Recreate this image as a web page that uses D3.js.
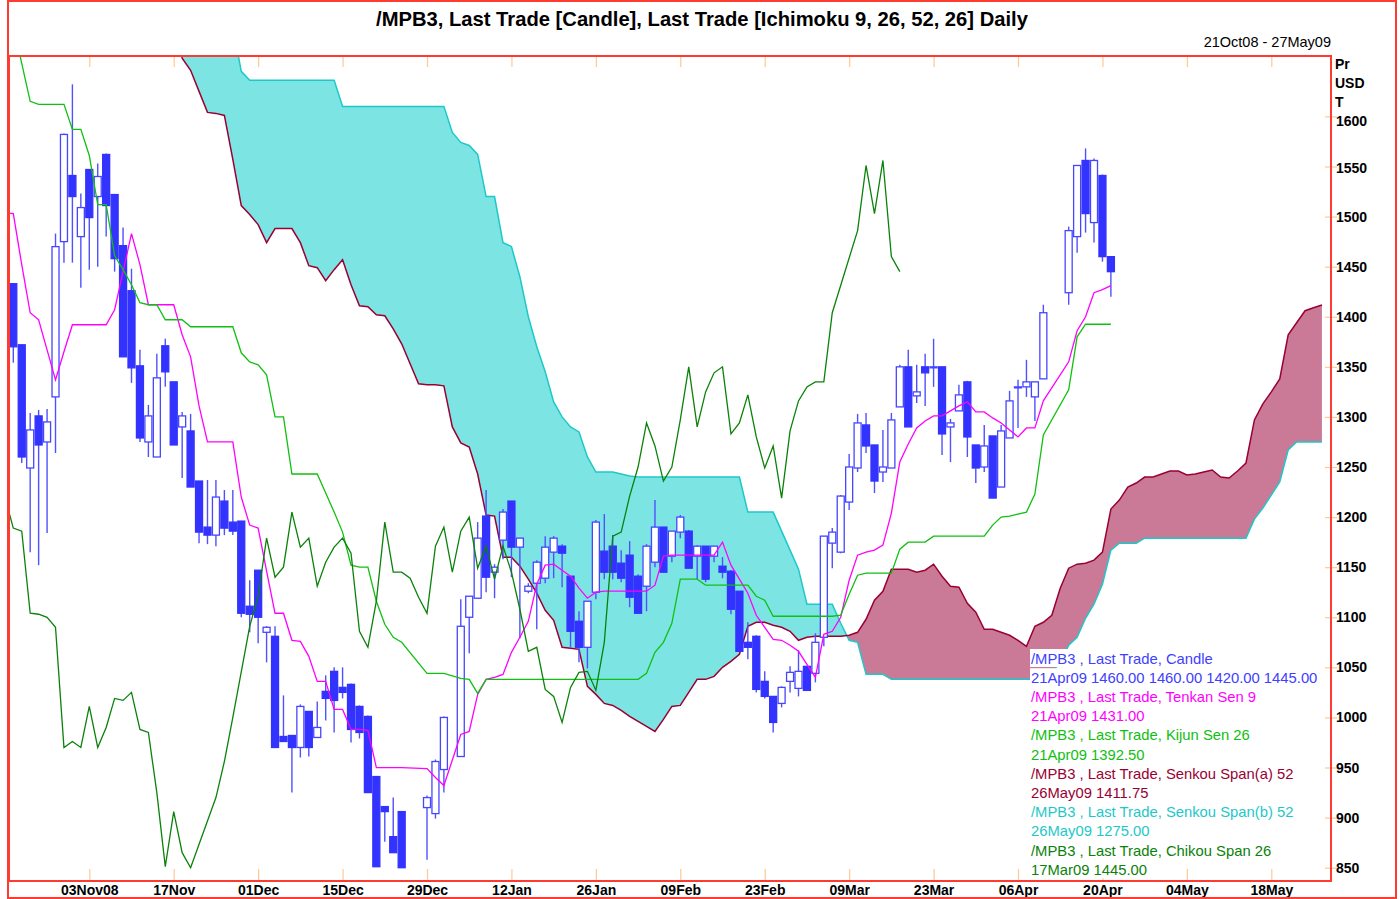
<!DOCTYPE html>
<html><head><meta charset="utf-8">
<script src="https://cdn.jsdelivr.net/npm/d3@7"></script>
<style>body{margin:0;background:#fff}svg{display:block}text{font-family:"Liberation Sans",Arial,Helvetica,sans-serif}</style>
</head><body><svg id="c" width="1400" height="899"></svg>
<script>
// ---------- DATA ----------
const startDate = "2008-10-21";          // first bar (weekday index 0)
const endIdx = 156;                      // 27May09, last weekday slot on the axis
const tickIdx    = [9,19,29,39,49,59,69,79,89,99,109,119,129,139,149];
const tickLabels = ["03Nov08","17Nov","01Dec","15Dec","29Dec","12Jan","26Jan","09Feb","23Feb","09Mar","23Mar","06Apr","20Apr","04May","18May"];
const yTicks = [850,900,950,1000,1050,1100,1150,1200,1250,1300,1350,1400,1450,1500,1550,1600];

// candles, weekday index 0..130 (null = holiday)
const open = [1433,1372,1249,1301,1275,1320,1475,1541,1480,1547,
1520,1562,1522,1471,1426,1351,1275,1260,1371,1335,
1290,1286,1236,1190,1182,1216,1195,1196,1111,1147,
1085,1081,981,982,970,1006,980,1026,1046,1030,
1033,1011,1001,941,911,881,906,null,null,910,
904,948,null,961,1100,1119,1201,1145,1177,1216,
1170,1126,1134,1139,1165,1171,1141,1096,1070,1125,
1166,1171,1154,1162,1141,1131,1155,1190,1161,1185,
1186,1161,1171,1161,1151,1146,1126,1075,1081,1036,
1021,1014,1036,1029,1051,1044,1080,1174,1165,1215,
1249,1292,1272,1245,1249,1310,1350,1321,1350,1350,
1350,1290,1306,1335,1272,1250,1281,1230,1279,1330,
1330,1320,1338,null,null,1424,1480,1556,1494,1541,
1460];
const high = [1433,1372,1304,1307,1308,1483,1583,1632,1523,1547,
1553,1563,1522,1489,1448,1367,1312,1363,1378,1335,
1305,1303,1236,1237,1237,1227,1227,1196,1137,1147,
1091,1091,1022,982,1013,1006,1016,1042,1050,1050,
1034,1012,1002,941,911,920,906,null,null,922,
958,1001,null,1118,1121,1195,1227,1153,1208,1216,
1179,1134,1157,1181,1181,1173,1141,1106,1116,1197,
1203,1182,1167,1176,1143,1173,1217,1190,1186,1202,
1187,1172,1171,1171,1160,1147,1126,1095,1082,1046,
1021,1031,1051,1067,1051,1084,1181,1189,1222,1263,
1303,1304,1272,1287,1304,1352,1367,1352,1363,1378,
1350,1298,1332,1336,1272,1292,1281,1292,1326,1337,
1357,1335,1412,null,null,1490,1551,1568,1558,1542,
1460];
const low = [1354,1254,1165,1152,1184,1264,1454,1454,1429,1447,
1450,1480,1445,1360,1334,1275,1260,1260,1330,1272,
1239,1230,1174,1173,1171,1182,1182,1100,1085,1074,
1055,970,976,925,960,961,980,997,985,1019,
975,979,925,851,876,865,850,null,null,858,
899,925,null,961,1064,1119,1125,1119,1158,1140,
1079,1124,1088,1134,1139,1130,1070,1055,1049,1118,
1138,1138,1135,1110,1104,1106,1150,1145,1155,1179,
1149,1138,1135,1155,1139,1103,1066,1058,1025,1019,
985,1010,1025,1021,1027,1035,1071,1149,1164,1207,
1245,1264,1224,1235,1249,1310,1290,1314,1311,1330,
1262,1255,1306,1260,1234,1245,1219,1230,1279,1289,
1320,1296,1338,null,null,1412,1464,1484,1474,1455,
1420];
const close = [1370,1260,1287,1272,1295,1470,1582,1520,1509,1499,
1540,1511,1458,1360,1349,1279,1301,1339,1345,1272,
1301,1230,1185,1182,1220,1189,1186,1104,1103,1100,
1090,970,976,970,1011,970,990,1019,1017,1025,
988,985,925,851,906,865,850,null,null,920,
956,1000,null,1091,1121,1179,1140,1150,1205,1170,
1179,1131,1155,1170,1179,1164,1086,1070,1116,1195,
1145,1145,1139,1120,1104,1171,1190,1145,1186,1200,
1149,1171,1138,1171,1145,1108,1066,1070,1028,1021,
995,1030,1045,1046,1027,1075,1181,1185,1221,1250,
1294,1271,1236,1250,1297,1350,1290,1325,1344,1350,
1283,1294,1322,1280,1249,1271,1219,1286,1316,1330,
1335,1335,1404,null,null,1486,1551,1503,1556,1460,
1445];

// Tenkan Sen 9 and Kijun Sen 26, weekday index -1..130
const lineStart = -1;
const tenkan = [1504,
1503,1452,1404,1397,1367,1337,1365,1392,1392,1392,
1392,1392,1407,1445,1483,1452,1412,1412,1412,1412,
1382,1360,1311,1275,1275,1275,1275,1220,1192,1189,
1146,1104,1104,1077,1076,1061,1036,1036,1008,1008,
988,988,987,950,950,950,950,null,null,949,
940,932,null,983,986,1023,1038,1040,1043,1065,
1080,1096,1133,1152,1153,1147,1141,1129,1119,1125,
1126,1126,1126,1126,1126,1126,1132,1161,1162,1162,
1162,1162,1162,1162,1175,1152,1138,1124,1102,1090,
1078,1077,1072,1066,1053,1040,1083,1086,1100,1137,
1162,1165,1167,1172,1204,1255,1273,1289,1296,1301,
1301,1306,1311,1315,1305,1305,1299,1294,1287,1280,
1289,1289,1316,null,null,1355,1386,1400,1424,1427,1431];
const kijun = [1700,
1690,1653,1615,1612,1612,1612,1612,1587,1587,1561,
1512,1512,1461,1447,1432,1414,1412,1412,1397,1397,
1397,1390,1390,1390,1390,1390,1390,1364,1355,1352,
1342,1300,1300,1243,1243,1243,1243,1224,1205,1185,
1152,1150,1150,1116,1093,1080,1075,null,null,1044,
1044,1044,null,1039,1038,1024,1038,1038,1038,1038,
1038,1038,1038,1038,1038,1038,1038,1038,1038,1038,
1038,1038,1038,1038,1038,1044,1065,1075,1094,1138,
1138,1138,1132,1132,1132,1132,1132,1132,1121,1117,
1101,1101,1101,1101,1101,1101,1101,1101,1102,1123,
1142,1144,1144,1144,1144,1168,1175,1175,1175,1181,
1181,1181,1181,1181,1181,1181,1192,1200,1201,1203,
1205,1223,1282,null,null,1327,1380,1392.5,1392.5,1392.5,1392.5];

// Senkou spans (already displaced), weekday index 19..155
const spanStart = 19;
const senkouA = [1700,
1658,1646,1625,1604,1603,1601,1557,1511,1502,1492,
1474,1488,1488,1488,1474,1451,1449,1436,1447,1457,
1432,1411,1410,1402,1401,1388,1373,1353,1333,1332,
1332,1331,1290,1274,1270,1243,1202,1201,1160,1160,
1151,1138,1124,1107,1097,1070,1069,1068,1031,1023,
1014,1012,1007,1001,996,991,986,998,1011,1012,
1025,1038,1038,1041,1050,1056,1063,1091,1095,1095,
1092,1090,1086,1077,1080,1081,1081,1081,1081,1082,
1085,1098,1117,1126,1148,1148,1148,1145,1147,1153,
1141,1131,1130,1114,1105,1088,1088,1085,1082,1077,
1071,1091,1095,1102,1129,1149,1153,1154,1157,1165,
1208,1217,1230,1234,1240,1240,1243,1246,1246,1242,
1243,1245,1247,1240,1239,1246,1254,1297,1313,1325,
1338,1382,1394,1406,1409,1411.75];
const senkouB = [1700,
1700,1700,1700,1700,1700,1700,1690,1645,1636,1636,
1636,1636,1636,1636,1636,1636,1636,1636,1636,1610,
1610,1610,1610,1610,1610,1610,1610,1610,1610,1610,
1610,1610,1584,1574,1571,1562,1520,1520,1474,1470,
1440,1400,1370,1345,1315,1300,1290,1285,1260,1245,
1245,1245,1243,1241,1240,1240,1240,1240,1240,1240,
1240,1240,1240,1240,1240,1240,1240,1205,1205,1205,
1205,1186,1167,1148,1113,1113,1113,1113,1094,1077,
1075,1043,1043,1043,1038,1038,1038,1038,1038,1038,
1038,1038,1038,1038,1038,1038,1038,1038,1038,1038,
1038,1038,1040,1045,1055,1072,1080,1099,1113,1133,
1167,1174,1174,1174,1179,1179,1179,1179,1179,1179,
1179,1179,1179,1179,1179,1179,1179,1198,1209,1222,
1235,1267,1275,1275,1275,1275];
const chikouShift = 25;   // Chikou Span = close plotted 25 weekday slots back

// ---------- CHART ----------
const svg = d3.select("#c");
const P = {l:9, r:1331, t:56, b:881};
const x = d3.scaleLinear().domain([0,130]).range([13.3, 13.3 + 8.443*130]);
const y = d3.scaleLinear().domain([850,1600]).range([867.7,116.4]);

const C = {blue:"#3333ff", wick:"#5050ff", outline:"#4646ff", tenkan:"#ff00ff", kijun:"#10c010",
  chikou:"#0a820a", a:"#990033", b:"#1ec8c8", cyanFill:"#7de4e4", roseFill:"#ca7a96",
  frame:"#ff3a30", tick:"#ffc896"};

// dates for weekday indices
const dates = []; { let d = new Date(startDate+"T00:00:00"); while (dates.length < 170) { if (d.getDay()%6 !== 0) dates.push(new Date(d)); d.setDate(d.getDate()+1); } }
const fmt = d3.timeFormat("%d%b%y");

const candles = open.map((o,i)=>({i, o, h:high[i], l:low[i], c:close[i]})).filter(d=>d.o!=null);
const ten = tenkan.map((v,k)=>({i:k+lineStart, v})).filter(d=>d.v!=null);
const kij = kijun.map((v,k)=>({i:k+lineStart, v})).filter(d=>d.v!=null);
const chi = candles.map(d=>({i:d.i-chikouShift, v:d.c}));
const span = senkouA.map((a,k)=>({i:k+spanStart, a, b:senkouB[k]}));

const defs = svg.append("defs");
defs.append("clipPath").attr("id","plotClip").append("rect")
  .attr("x",P.l).attr("y",P.t).attr("width",P.r-P.l).attr("height",P.b-P.t);
defs.append("clipPath").attr("id","aboveA").append("path")
  .attr("d", d3.area().x(d=>x(d.i)).y0(0).y1(d=>y(d.a))(span));
defs.append("clipPath").attr("id","belowA").append("path")
  .attr("d", d3.area().x(d=>x(d.i)).y0(d=>y(d.a)).y1(899)(span));

const g = svg.append("g").attr("clip-path","url(#plotClip)");
const band = d3.area().x(d=>x(d.i)).y0(d=>y(d.a)).y1(d=>y(d.b));
g.append("path").attr("d",band(span)).attr("fill",C.cyanFill).attr("clip-path","url(#aboveA)");
g.append("path").attr("d",band(span)).attr("fill",C.roseFill).attr("clip-path","url(#belowA)");

const ln = key => d3.line().x(d=>x(d.i)).y(d=>y(d[key]));
g.append("path").attr("d",ln("b")(span)).attr("fill","none").attr("stroke",C.b).attr("stroke-width",1.5);
g.append("path").attr("d",ln("a")(span)).attr("fill","none").attr("stroke",C.a).attr("stroke-width",1.5);

// candles
const cg = g.append("g");
cg.selectAll("line.w").data(candles).join("line").attr("class","w")
  .attr("x1",d=>x(d.i)).attr("x2",d=>x(d.i)).attr("y1",d=>y(d.h)).attr("y2",d=>y(d.l))
  .attr("stroke",C.wick).attr("stroke-width",1.4);
cg.selectAll("rect.b").data(candles).join("rect").attr("class","b")
  .attr("x",d=>x(d.i)-3.5).attr("width",7)
  .attr("y",d=>y(Math.max(d.o,d.c)))
  .attr("height",d=>Math.max(1, Math.abs(y(d.o)-y(d.c))))
  .attr("fill",d=>d.c<d.o?C.blue:"#fff")
  .attr("stroke",d=>d.c<d.o?C.blue:C.outline).attr("stroke-width",1.3);

const vl = d3.line().x(d=>x(d.i)).y(d=>y(d.v));
g.append("path").attr("d",vl(ten)).attr("fill","none").attr("stroke",C.tenkan).attr("stroke-width",1.3);
g.append("path").attr("d",vl(kij)).attr("fill","none").attr("stroke",C.kijun).attr("stroke-width",1.3);
g.append("path").attr("d",vl(chi)).attr("fill","none").attr("stroke",C.chikou).attr("stroke-width",1.3);

// axes
const xb = d3.axisBottom(x).tickValues(tickIdx).tickFormat((d,k)=>tickLabels[k]).tickSizeInner(-12).tickSizeOuter(0).tickPadding(4);
const gxb = svg.append("g").attr("transform",`translate(0,${P.b})`).call(xb);
gxb.select(".domain").remove();
gxb.selectAll("line").attr("stroke",C.tick).attr("stroke-width",1.2);
gxb.selectAll("text").attr("font-size",14).attr("font-weight","bold").attr("fill","#000");
const xt = d3.axisTop(x).tickValues(tickIdx).tickFormat("").tickSizeInner(-11).tickSizeOuter(0);
const gxt = svg.append("g").attr("transform",`translate(0,${P.t})`).call(xt);
gxt.select(".domain").remove(); gxt.selectAll("line").attr("stroke",C.tick).attr("stroke-width",1.2);

const yr = d3.axisRight(y).tickValues(yTicks).tickFormat(d3.format("d")).tickSizeInner(6).tickSizeOuter(0).tickPadding(0);
const gyr = svg.append("g").attr("transform",`translate(${P.r},0)`).call(yr);
gyr.select(".domain").remove();
gyr.selectAll("line").attr("stroke",C.tick).attr("stroke-width",1.2);
gyr.selectAll("text").attr("font-size",14).attr("font-weight","bold").attr("fill","#000").attr("x",5)
  .attr("dy",d=>d===1600?"0.68em":(d===1550?"0.45em":"0.32em"));
const yl = d3.axisLeft(y).tickValues(yTicks).tickFormat("").tickSizeInner(6).tickSizeOuter(0);
const gyl = svg.append("g").attr("transform",`translate(${P.r},0)`).call(yl);
gyl.select(".domain").remove(); gyl.selectAll("line").attr("stroke",C.tick).attr("stroke-width",1.2);

["Pr","USD","T"].forEach((t,k)=>svg.append("text").attr("x",1335).attr("y",69+k*19)
  .attr("font-size",14).attr("font-weight","bold").text(t));

// frames
svg.append("rect").attr("x",P.l).attr("y",P.t).attr("width",P.r-P.l).attr("height",P.b-P.t)
  .attr("fill","none").attr("stroke",C.frame).attr("stroke-width",2);
svg.append("rect").attr("x",8).attr("y",1).attr("width",1388).attr("height",897)
  .attr("fill","none").attr("stroke",C.frame).attr("stroke-width",2);

// titles
svg.append("text").attr("x",702).attr("y",26).attr("text-anchor","middle").attr("font-size",20.2)
  .attr("font-weight","bold").text("/MPB3, Last Trade [Candle], Last Trade [Ichimoku 9, 26, 52, 26] Daily");
svg.append("text").attr("x",1331).attr("y",47).attr("text-anchor","end").attr("font-size",14.5)
  .text(`${fmt(dates[0])} - ${fmt(dates[endIdx])}`);

// legend
const last = candles[candles.length-1];
const f2 = d3.format(".2f");
const lastChi = chi[chi.length-1];
const legend = [
 ["/MPB3 , Last Trade, Candle", "#4040ff"],
 [`${fmt(dates[last.i])} ${f2(last.o)} ${f2(last.h)} ${f2(last.l)} ${f2(last.c)}`, "#4040ff"],
 ["/MPB3 , Last Trade, Tenkan Sen 9", C.tenkan],
 [`${fmt(dates[ten[ten.length-1].i])} ${f2(ten[ten.length-1].v)}`, C.tenkan],
 ["/MPB3 , Last Trade, Kijun Sen 26", C.kijun],
 [`${fmt(dates[kij[kij.length-1].i])} ${f2(kij[kij.length-1].v)}`, C.kijun],
 ["/MPB3 , Last Trade, Senkou Span(a) 52", C.a],
 [`${fmt(dates[span[span.length-1].i])} ${f2(span[span.length-1].a)}`, C.a],
 ["/MPB3 , Last Trade, Senkou Span(b) 52", C.b],
 [`${fmt(dates[span[span.length-1].i])} ${f2(span[span.length-1].b)}`, C.b],
 ["/MPB3 , Last Trade, Chikou Span 26", C.chikou],
 [`${fmt(dates[lastChi.i])} ${f2(lastChi.v)}`, C.chikou]
];
const lg = svg.append("g");
legend.forEach(([t,col],k)=>{
  const by = 663.5 + k*19.2;
  const r = lg.append("rect").attr("fill","#fff");
  const tx = lg.append("text").attr("x",1031).attr("y",by).attr("font-size",14.8).attr("fill",col).text(t);
  const w = tx.node().getComputedTextLength();
  r.attr("x",1030).attr("y",by-14.5).attr("width",w+2).attr("height",18);
});
</script></body></html>
